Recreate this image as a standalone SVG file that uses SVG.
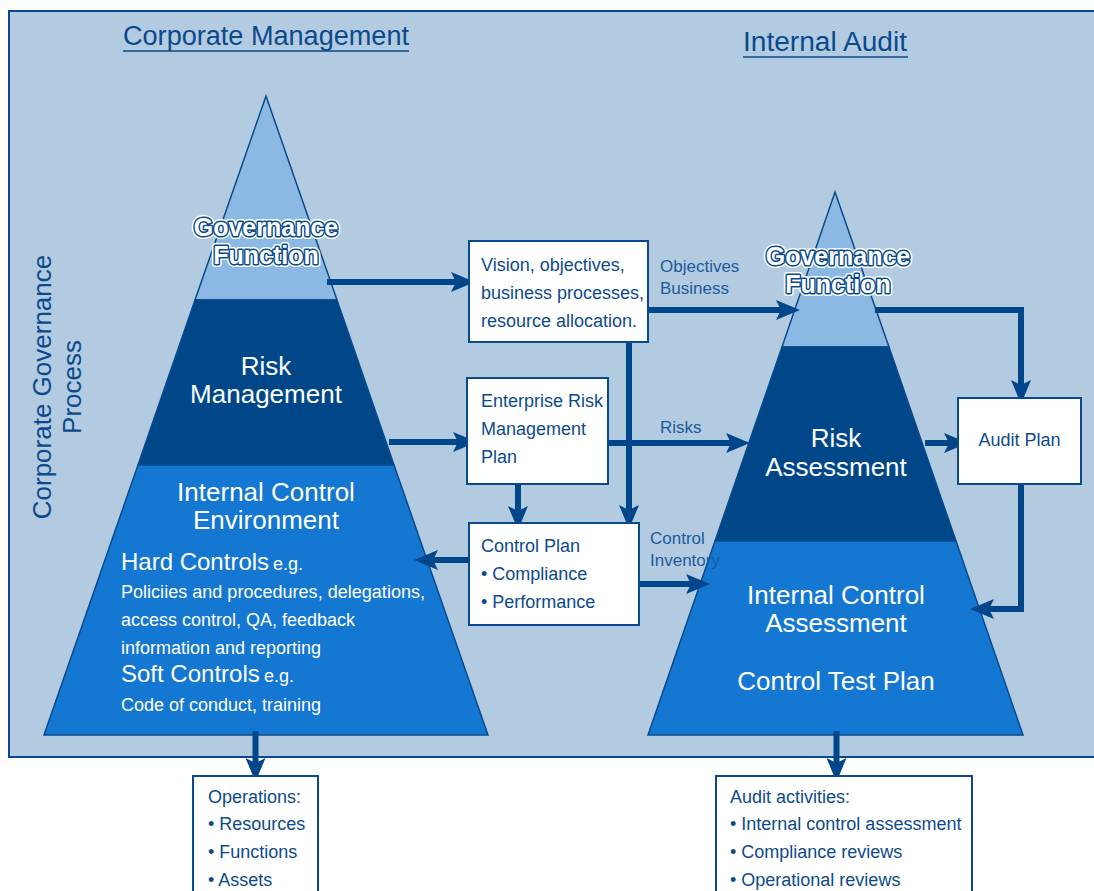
<svg xmlns="http://www.w3.org/2000/svg" width="1094" height="891" viewBox="0 0 1094 891">
<defs>
<style>
text{font-family:"Liberation Sans",Arial,sans-serif;}
.title{font-size:27px;fill:#0a4a8c;}
.vert{font-size:26px;fill:#0a4a8c;text-anchor:middle;}
.box{fill:#ffffff;stroke:#0a4a8c;stroke-width:2;}
.bt{font-size:18px;fill:#0d4a8c;}
.lbl{font-size:17px;fill:#1d5a9a;}
.wh{fill:#ffffff;font-size:26px;text-anchor:middle;}
.whs{fill:#ffffff;font-size:18px;}
.whb{fill:#ffffff;font-size:24px;}
.halo{fill:#ffffff;stroke:#ffffff;stroke-width:6;stroke-linejoin:round;font-size:25px;font-weight:bold;text-anchor:middle;}
.outl{fill:#ffffff;stroke:#0a4a8c;stroke-width:3;stroke-linejoin:round;paint-order:stroke;font-size:25px;font-weight:bold;text-anchor:middle;}
.pyr{stroke:#0a4a8c;stroke-width:1.5;}
.arr{fill:none;stroke:#00468a;stroke-width:6;marker-end:url(#ah);}
</style>
<marker id="ah" viewBox="0 0 24 20" refX="8" refY="10" markerWidth="24" markerHeight="20" markerUnits="userSpaceOnUse" orient="auto">
<path d="M0,0 L24,10 L0,20 L5,10 z" fill="#00468a"/>
</marker>
</defs>

<rect x="9" y="11" width="1100" height="746" fill="#b3cbe1" stroke="#0a4a8c" stroke-width="2"/>

<g id="titles">
<text class="title" x="123" y="45" textLength="286" lengthAdjust="spacingAndGlyphs">Corporate Management</text>
<line x1="123" y1="51" x2="409" y2="51" stroke="#0a4a8c" stroke-width="1.5"/>
<text class="title" x="743" y="51" textLength="164" lengthAdjust="spacingAndGlyphs">Internal Audit</text>
<line x1="743" y1="57" x2="908" y2="57" stroke="#0a4a8c" stroke-width="1.5"/>
<text class="vert" transform="translate(51,387) rotate(-90)">Corporate Governance</text>
<text class="vert" transform="translate(81,387) rotate(-90)">Process</text>
</g>

<g id="left-pyramid">
<polygon class="pyr" points="266,96 337,300 195,300" fill="#8cb9e3"/>
<polygon class="pyr" points="195,300 337,300 394,465 138,465" fill="#00478a"/>
<polygon class="pyr" points="138,465 394,465 488,735 44,735" fill="#1477d2"/>
<text class="halo" x="266" y="236">Governance</text>
<text class="outl" x="266" y="236">Governance</text>
<text class="halo" x="266" y="264">Function</text>
<text class="outl" x="266" y="264">Function</text>
<text class="wh" x="266" y="375" font-size="25">Risk</text>
<text class="wh" x="266" y="403" font-size="25">Management</text>
<text class="wh" x="266" y="501">Internal Control</text>
<text class="wh" x="266" y="529">Environment</text>
<text class="whb" x="121" y="570">Hard Controls</text>
<text class="whs" x="273" y="570">e.g.</text>
<text class="whs" x="121" y="598" textLength="304" lengthAdjust="spacingAndGlyphs">Policiies and procedures, delegations,</text>
<text class="whs" x="121" y="626">access control, QA, feedback</text>
<text class="whs" x="121" y="654">information and reporting</text>
<text class="whb" x="121" y="682">Soft Controls</text>
<text class="whs" x="264" y="682">e.g.</text>
<text class="whs" x="121" y="711">Code of conduct, training</text>
</g>

<g id="right-pyramid">
<polygon class="pyr" points="835,192 889,347 782,347" fill="#8cb9e3"/>
<polygon class="pyr" points="782,347 889,347 956,541 715,541" fill="#00478a"/>
<polygon class="pyr" points="715,541 956,541 1023,735 648,735" fill="#1477d2"/>
<text class="halo" x="838" y="265">Governance</text>
<text class="outl" x="838" y="265">Governance</text>
<text class="halo" x="838" y="293">Function</text>
<text class="outl" x="838" y="293">Function</text>
<text class="wh" x="836" y="447">Risk</text>
<text class="wh" x="836" y="476">Assessment</text>
<text class="wh" x="836" y="604">Internal Control</text>
<text class="wh" x="836" y="632">Assessment</text>
<text class="wh" x="836" y="690">Control Test Plan</text>
</g>

<g id="connectors">
<path class="arr" d="M327,282 L459,282"/>
<path class="arr" d="M645,310 L784,310"/>
<path class="arr" d="M629,342 L629,513"/>
<path class="arr" d="M389,442 L461,442"/>
<path class="arr" d="M603,443 L734,443"/>
<path class="arr" d="M518,484 L518,514"/>
<path class="arr" d="M472,560 L430,560"/>
<path class="arr" d="M632,584 L694,584"/>
<path class="arr" d="M875,310 L1021,310 L1021,388"/>
<path class="arr" d="M925,443 L952,443"/>
<path class="arr" d="M1021,484 L1021,609 L986,609"/>
<path class="arr" d="M255.5,731 L255.5,766"/>
<path class="arr" d="M836.5,731 L836.5,766"/>
</g>

<g id="labels">
<text class="lbl" x="660" y="272">Objectives</text>
<text class="lbl" x="660" y="294">Business</text>
<text class="lbl" x="660" y="433">Risks</text>
<text class="lbl" x="650" y="544">Control</text>
<text class="lbl" x="650" y="566">Inventory</text>
</g>

<g id="vision-box">
<rect class="box" x="469" y="241" width="179" height="101"/>
<text class="bt" x="481" y="271">Vision, objectives,</text>
<text class="bt" x="481" y="299">business processes,</text>
<text class="bt" x="481" y="327">resource allocation.</text>
</g>

<g id="erm-box">
<rect class="box" x="467" y="378" width="141" height="106"/>
<text class="bt" x="481" y="407">Enterprise Risk</text>
<text class="bt" x="481" y="435">Management</text>
<text class="bt" x="481" y="463">Plan</text>
</g>

<g id="control-plan-box">
<rect class="box" x="469" y="523" width="170" height="102"/>
<text class="bt" x="481" y="552">Control Plan</text>
<text class="bt" x="481" y="580">• Compliance</text>
<text class="bt" x="481" y="608">• Performance</text>
</g>

<g id="audit-plan-box">
<rect class="box" x="958" y="398" width="123" height="86"/>
<text class="bt" x="1019.5" y="446" text-anchor="middle">Audit Plan</text>
</g>

<g id="operations-box">
<rect class="box" x="193" y="776" width="125" height="130"/>
<text class="bt" x="208" y="803">Operations:</text>
<text class="bt" x="208" y="830">• Resources</text>
<text class="bt" x="208" y="858">• Functions</text>
<text class="bt" x="208" y="886">• Assets</text>
</g>

<g id="audit-activities-box">
<rect class="box" x="716" y="776" width="256" height="130"/>
<text class="bt" x="730" y="803">Audit activities:</text>
<text class="bt" x="730" y="830">• Internal control assessment</text>
<text class="bt" x="730" y="858">• Compliance reviews</text>
<text class="bt" x="730" y="886">• Operational reviews</text>
</g>
</svg>
